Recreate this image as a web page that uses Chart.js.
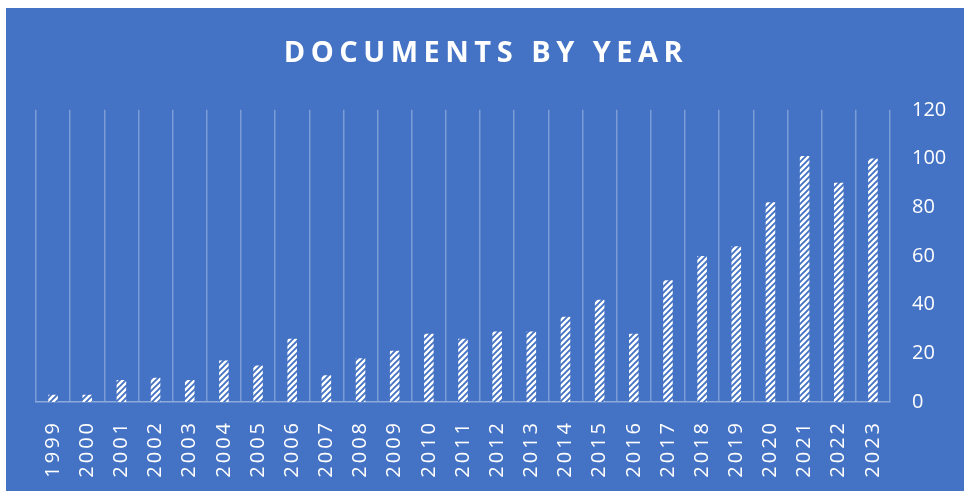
<!DOCTYPE html>
<html lang="en">
<head>
  <meta charset="UTF-8">
  <title>Documents by Year</title>
  <style>
    body {
      margin: 0;
      background: #ffffff;
    }
    #box {
      position: absolute;
      left: 6px;
      top: 8px;
      width: 958px;
      height: 483px;
      background: #4472c4;
    }
  </style>
</head>
<body>
  <div id="box">
    <canvas id="chart" width="958" height="483"></canvas>
  </div>

  <script src="https://cdn.jsdelivr.net/npm/chart.js"></script>
  <script>
    const years = ['1999', '2000', '2001', '2002', '2003', '2004', '2005', '2006', '2007', '2008',
      '2009', '2010', '2011', '2012', '2013', '2014', '2015', '2016', '2017', '2018',
      '2019', '2020', '2021', '2022', '2023'];
    const documents = [3, 3, 9, 10, 9, 17, 15, 26, 11, 18,
      21, 28, 26, 29, 29, 35, 42, 28, 50, 60,
      64, 82, 101, 90, 100];
    const yTicks = [0, 20, 40, 60, 80, 100, 120];

    // white bars with blue diagonal hatching
    function makeHatch() {
      const p = document.createElement('canvas');
      p.width = 6;
      p.height = 6;
      const c = p.getContext('2d');
      c.fillStyle = '#ffffff';
      c.fillRect(0, 0, 6, 6);
      c.strokeStyle = '#4472c4';
      c.lineWidth = 1.9;
      c.beginPath();
      c.moveTo(-1, 7); c.lineTo(7, -1);
      c.moveTo(-4, 4); c.lineTo(4, -4);
      c.moveTo(2, 10); c.lineTo(10, 2);
      c.stroke();
      return c.createPattern(p, 'repeat');
    }

    // letter spacing for the title and the year labels
    const spacing = {
      id: 'spacing',
      beforeDraw(chart) {
        if (chart._spaced) return;
        chart._spaced = true;
        const t = chart.titleBlock;
        const tDraw = t.draw.bind(t);
        t.draw = function(area) {
          const c = this.ctx;
          c.save();
          c.letterSpacing = '5.5px';
          c.translate(-14, 0); // centre over whole box, not the padded area
          tDraw(area);
          c.restore();
        };
        const sx = chart.scales.x;
        const xDraw = sx.drawLabels.bind(sx);
        sx.drawLabels = function(area) {
          const c = this.ctx;
          c.save();
          c.letterSpacing = '3px';
          xDraw(area);
          c.restore();
        };
      }
    };

    const ctx = document.getElementById('chart').getContext('2d');
    new Chart(ctx, {
      type: 'bar',
      data: {
        labels: years,
        datasets: [{
          data: documents,
          backgroundColor: makeHatch(),
          borderWidth: 0,
          categoryPercentage: 1,
          barPercentage: 0.28
        }]
      },
      plugins: [spacing],
      options: {
        responsive: false,
        animation: false,
        layout: { padding: { left: 30, right: 0, top: 0, bottom: 0 } },
        plugins: {
          legend: { display: false },
          tooltip: { enabled: false },
          title: {
            display: true,
            text: 'DOCUMENTS BY YEAR',
            color: '#ffffff',
            font: { family: 'Open Sans', size: 29, weight: 'bold' },
            padding: { top: 28, bottom: 39 }
          }
        },
        scales: {
          x: {
            grid: {
              offset: true,
              color: 'rgba(255,255,255,0.3)',
              lineWidth: 1.5,
              drawTicks: false
            },
            border: { color: 'rgba(255,255,255,0.4)', width: 1.5 },
            ticks: {
              color: '#ffffff',
              font: { family: 'Open Sans', size: 20 },
              minRotation: 90,
              maxRotation: 90,
              autoSkip: false,
              padding: 18
            },
            afterFit(scale) { scale.height = 89; }
          },
          y: {
            position: 'right',
            min: 0,
            max: 120,
            afterBuildTicks(scale) { scale.ticks = yTicks.map(v => ({ value: v })); },
            grid: { display: false, drawTicks: false },
            border: { display: false },
            ticks: {
              color: '#ffffff',
              font: { family: 'Open Sans', size: 20 },
              padding: 22
            },
            afterFit(scale) { scale.width = 74; }
          }
        }
      }
    });
  </script>
</body>
</html>
